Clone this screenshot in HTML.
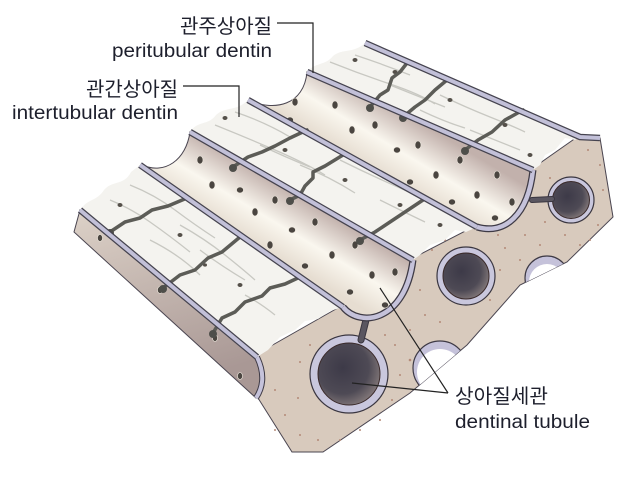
<!DOCTYPE html>
<html><head><meta charset="utf-8"><style>
html,body{margin:0;padding:0;background:#fff;}
svg{display:block;}
text{font-family:"Liberation Sans","Noto Sans CJK KR",sans-serif;fill:#1d1f2c;}
</style></head><body>
<svg width="628" height="479" viewBox="0 0 628 479" xmlns="http://www.w3.org/2000/svg">
<defs>
<linearGradient id="gAB" gradientUnits="userSpaceOnUse" x1="240" y1="235" x2="273" y2="180">
<stop offset="0" stop-color="#e6ddd1"/><stop offset="0.45" stop-color="#faf7ef"/><stop offset="1" stop-color="#c2b1ac"/></linearGradient>
<linearGradient id="gBC" gradientUnits="userSpaceOnUse" x1="380" y1="173" x2="413" y2="118">
<stop offset="0" stop-color="#e6ddd1"/><stop offset="0.45" stop-color="#faf7ef"/><stop offset="1" stop-color="#c2b1ac"/></linearGradient>
<linearGradient id="gSide" x1="0" y1="0" x2="0.3" y2="1">
<stop offset="0" stop-color="#ddd2c8"/><stop offset="1" stop-color="#a99895"/></linearGradient>
<radialGradient id="hole" cx="0.4" cy="0.4" r="0.7">
<stop offset="0" stop-color="#3d3a48"/><stop offset="0.6" stop-color="#4e4a55"/><stop offset="1" stop-color="#8f8382"/></radialGradient>
<clipPath id="cf"><path d="M255,355 L343,305 L413,258 L477,225 L533,168 L580,135 L600,138 L613,217 L567,262 L520,285 L467,345 L410,393 L323,452 L292,452 L258,398 Z"/></clipPath>
</defs>

<path d="M255,355 L343,305 L413,258 L477,225 L533,168 L580,135 L600,138 L613,217 L567,262 L520,285 L467,345 L410,393 L323,452 L292,452 L258,398 Z" fill="#d8cabd" stroke="#4a4550" stroke-width="1"/>
<g fill="#b48a78">
<circle cx="285" cy="415" r="1"/><circle cx="300" cy="435" r="1"/><circle cx="318" cy="440" r="1"/><circle cx="275" cy="390" r="1"/><circle cx="298" cy="398" r="1"/><circle cx="392" cy="400" r="1"/><circle cx="400" cy="375" r="1"/><circle cx="395" cy="345" r="1"/><circle cx="410" cy="330" r="1"/><circle cx="425" cy="315" r="1"/><circle cx="440" cy="322" r="1"/><circle cx="455" cy="300" r="1"/><circle cx="490" cy="300" r="1"/><circle cx="500" cy="270" r="1"/><circle cx="505" cy="248" r="1"/><circle cx="520" cy="260" r="1"/><circle cx="525" cy="235" r="1"/><circle cx="540" cy="245" r="1"/><circle cx="498" cy="235" r="1"/><circle cx="590" cy="240" r="1"/><circle cx="598" cy="225" r="1"/><circle cx="603" cy="190" r="1"/><circle cx="600" cy="165" r="1"/><circle cx="588" cy="150" r="1"/><circle cx="550" cy="178" r="1"/><circle cx="545" cy="222" r="1"/><circle cx="432" cy="250" r="1"/><circle cx="445" cy="240" r="1"/><circle cx="420" cy="290" r="1"/><circle cx="385" cy="335" r="1"/><circle cx="380" cy="420" r="1"/><circle cx="360" cy="430" r="1"/><circle cx="340" cy="440" r="1"/><circle cx="275" cy="430" r="1"/><circle cx="310" cy="345" r="1"/><circle cx="300" cy="362" r="1"/><circle cx="565" cy="235" r="1"/><circle cx="580" cy="245" r="1"/><circle cx="410" cy="360" r="1.3"/>
</g>
<g clip-path="url(#cf)">
<circle cx="440" cy="368" r="27" fill="#c5c2da" stroke="#3e3a45" stroke-width="1.2"/>
<circle cx="440" cy="372" r="23" fill="#fff"/>
<circle cx="547" cy="278" r="22" fill="#c5c2da" stroke="#3e3a45" stroke-width="1.2"/>
<circle cx="547" cy="282" r="18" fill="#fff"/>
</g>
<circle cx="349" cy="374" r="39" fill="#c9c7dd" stroke="#3a3640" stroke-width="1.2"/>
<circle cx="349" cy="374" r="31" fill="url(#hole)" stroke="#3a2a2a" stroke-width="1"/>
<circle cx="466" cy="276" r="29" fill="#c9c7dd" stroke="#3a3640" stroke-width="1.2"/>
<circle cx="466" cy="276" r="23" fill="url(#hole)" stroke="#3a2a2a" stroke-width="1"/>
<circle cx="571" cy="200" r="23" fill="#c9c7dd" stroke="#3a3640" stroke-width="1.2"/>
<circle cx="571" cy="200" r="18.5" fill="url(#hole)" stroke="#3a2a2a" stroke-width="1"/>
<path d="M361,340 L367,316" stroke="#3a3640" stroke-width="7" stroke-linecap="round"/>
<path d="M361,340 L367,316" stroke="#5a5660" stroke-width="5" stroke-linecap="round"/>
<path d="M552,199 L532,200" stroke="#3a3640" stroke-width="6" stroke-linecap="round"/>
<path d="M552,199 L532,200" stroke="#5a5660" stroke-width="4" stroke-linecap="round"/>

<path d="M80,210 L257,357 Q268,380 256,398 L74,232 Z" fill="url(#gSide)" stroke="#4a4550" stroke-width="1"/>
<path d="M257,357 Q268,380 256,398" fill="none" stroke="#3e3a45" stroke-width="6"/>
<path d="M257,357 Q268,380 256,398" fill="none" stroke="#c5c2da" stroke-width="4"/>

<path d="M142,165 L343,307 C360,328 405,322 413,260 L190,132 C186,160 165,175 142,165 Z" fill="url(#gAB)" stroke="#4a4550" stroke-width="1"/>
<path d="M343,307 C360,328 405,322 413,260" fill="none" stroke="#3e3a45" stroke-width="7"/>
<path d="M343,307 C360,328 405,322 413,260" fill="none" stroke="#c5c2da" stroke-width="4.5"/>
<path d="M248,100 L477,227 C505,235 528,215 533,170 L307,72 C304,105 275,112 248,100 Z" fill="url(#gBC)" stroke="#4a4550" stroke-width="1"/>
<path d="M477,227 C505,235 528,215 533,170" fill="none" stroke="#3e3a45" stroke-width="7"/>
<path d="M477,227 C505,235 528,215 533,170" fill="none" stroke="#c5c2da" stroke-width="4.5"/>

<g fill="#4a4540" stroke="#efe9df" stroke-width="0.6">
<ellipse cx="200" cy="160" rx="3" ry="4"/><ellipse cx="212" cy="185" rx="3" ry="4"/><ellipse cx="240" cy="190" rx="3.5" ry="3"/><ellipse cx="255" cy="212" rx="3" ry="4"/><ellipse cx="275" cy="200" rx="3" ry="4"/><ellipse cx="292" cy="230" rx="3.5" ry="3"/><ellipse cx="270" cy="245" rx="3" ry="4"/><ellipse cx="315" cy="222" rx="3" ry="4"/><ellipse cx="332" cy="255" rx="3" ry="4"/><ellipse cx="305" cy="266" rx="3.5" ry="3"/><ellipse cx="355" cy="245" rx="3" ry="4"/><ellipse cx="372" cy="275" rx="3" ry="4"/><ellipse cx="350" cy="292" rx="3.5" ry="3"/><ellipse cx="395" cy="272" rx="3" ry="4"/><ellipse cx="385" cy="305" rx="3.5" ry="3"/>
<ellipse cx="295" cy="102" rx="3" ry="4"/><ellipse cx="290" cy="120" rx="3.5" ry="3"/><ellipse cx="335" cy="105" rx="3" ry="4"/><ellipse cx="352" cy="130" rx="3" ry="4"/><ellipse cx="375" cy="125" rx="3" ry="4"/><ellipse cx="397" cy="150" rx="3.5" ry="3"/><ellipse cx="418" cy="145" rx="3" ry="4"/><ellipse cx="436" cy="175" rx="3" ry="4"/><ellipse cx="410" cy="182" rx="3.5" ry="3"/><ellipse cx="460" cy="160" rx="3" ry="4"/><ellipse cx="477" cy="195" rx="3" ry="4"/><ellipse cx="452" cy="202" rx="3.5" ry="3"/><ellipse cx="497" cy="175" rx="3" ry="4"/><ellipse cx="512" cy="202" rx="3" ry="4"/><ellipse cx="495" cy="218" rx="3.5" ry="3"/>
<ellipse cx="100" cy="238" rx="2.5" ry="3.5"/><ellipse cx="160" cy="290" rx="2.5" ry="3.5"/><ellipse cx="215" cy="338" rx="2.5" ry="3.5"/><ellipse cx="240" cy="376" rx="2.5" ry="3.5"/>
</g>

<path d="M80,210 C88,198 96,202 104,190 C112,180 124,186 131,172 L140,165 L343,307 L330,311 L318,319 L305,321 L295,330 L280,337 L268,350 L257,357 Z" fill="#f4f3ef"/>
<path d="M190,132 C198,120 208,126 216,115 C226,106 236,112 248,100 L477,227 L466,232 L455,230 L445,240 L430,245 L420,255 L413,260 Z" fill="#f4f3ef"/>
<path d="M307,72 C315,62 325,66 333,56 C343,48 353,54 365,43 L580,137 L575,140 L565,138 L555,150 L545,155 L540,165 L533,170 Z" fill="#f4f3ef"/>
<g fill="none" stroke="#c8c8c2" stroke-width="1.3">
<path d="M110,200 q20,8 40,22 t40,30"/><path d="M130,185 q25,10 45,25 t40,28"/><path d="M150,240 q30,15 50,35"/><path d="M200,250 q20,15 45,30"/><path d="M245,295 q15,8 30,20"/><path d="M180,225 q25,14 45,30 t30,25"/>
<path d="M215,125 q30,12 60,25 t50,25"/><path d="M235,112 q30,10 55,25"/><path d="M300,165 q30,12 55,28"/><path d="M340,160 q30,15 60,28 t40,20"/><path d="M380,200 q20,10 45,22"/><path d="M260,145 q25,12 50,22"/>
<path d="M330,62 q30,12 60,22 t45,20"/><path d="M355,55 q30,10 55,20"/><path d="M390,85 q30,12 55,22"/><path d="M440,95 q25,12 50,22 t35,15"/><path d="M470,130 q25,10 50,20"/><path d="M420,110 q25,12 45,18"/>
</g>
<g fill="#55504a">
<ellipse cx="120" cy="205" rx="2.5" ry="2"/><ellipse cx="180" cy="235" rx="2.5" ry="2"/><ellipse cx="240" cy="285" rx="2.5" ry="2"/><ellipse cx="205" cy="265" rx="2" ry="1.6"/>
<ellipse cx="225" cy="118" rx="2.5" ry="2"/><ellipse cx="285" cy="150" rx="2.5" ry="2"/><ellipse cx="345" cy="180" rx="2.5" ry="2"/><ellipse cx="400" cy="205" rx="2.5" ry="2"/><ellipse cx="440" cy="225" rx="2.5" ry="2"/>
<ellipse cx="355" cy="60" rx="2.5" ry="2"/><ellipse cx="395" cy="72" rx="2.5" ry="2"/><ellipse cx="450" cy="100" rx="2.5" ry="2"/><ellipse cx="505" cy="125" rx="2.5" ry="2"/><ellipse cx="530" cy="155" rx="2.5" ry="2"/>
</g>
<g fill="none" stroke="#5c5c57" stroke-width="3.5" stroke-linecap="round" stroke-linejoin="round">
<path d="M110,232 L125,222 L140,218 L152,210 L168,206 L187,198"/>
<path d="M163,288 L180,275 L195,270 L208,258 L222,252 L240,237"/>
<path d="M213,333 L222,318 L235,312 L245,302 L262,296 L270,288 L285,284 L300,277"/>
<path d="M233,167 L248,157 L262,152 L275,146 L290,138 L307,130"/>
<path d="M290,200 L300,195 L305,186 L313,178 L313,172 L325,166 L343,155"/>
<path d="M360,240 L375,232 L390,222 L405,212 L423,200"/>
<path d="M370,107 L380,95 L388,90 L392,78 L400,72 L407,63"/>
<path d="M403,117 L415,107 L425,100 L435,90 L447,80"/>
<path d="M465,150 L478,140 L492,132 L505,120 L523,110"/>
</g>
<g fill="#4e4e4a">
<circle cx="110" cy="233" r="4"/><circle cx="163" cy="289" r="4"/><circle cx="213" cy="334" r="4"/><circle cx="233" cy="168" r="4"/><circle cx="290" cy="201" r="4"/><circle cx="360" cy="241" r="4"/><circle cx="370" cy="108" r="4"/><circle cx="403" cy="118" r="4"/><circle cx="465" cy="151" r="4"/>
</g>
<g fill="none" stroke-linecap="butt">
<path d="M80,210 L257,357 M140,165 L343,307 M190,132 L413,260 M248,100 L477,227 M307,72 L533,170 M365,43 L580,137 L600,138" stroke="#45434f" stroke-width="6.5"/>
<path d="M80,210 L257,357 M140,165 L343,307 M190,132 L413,260 M248,100 L477,227 M307,72 L533,170 M365,43 L580,137 L600,138" stroke="#c2c0d8" stroke-width="4"/>
</g>

<g fill="none" stroke="#222" stroke-width="1.2">
<path d="M277,23 L313,23 L313,73"/>
<path d="M183,86 L239,86 L239,117"/>
<path d="M448,393 L380,288 M448,393 L352,383"/>
</g>
<text x="272" y="33" font-size="20" text-anchor="end">관주상아질</text>
<text x="112" y="57" font-size="19" textLength="160" lengthAdjust="spacingAndGlyphs">peritubular dentin</text>
<text x="178" y="96" font-size="20" text-anchor="end">관간상아질</text>
<text x="12" y="119" font-size="19" textLength="166" lengthAdjust="spacingAndGlyphs">intertubular dentin</text>
<text x="455" y="403" font-size="20" textLength="93" lengthAdjust="spacingAndGlyphs">상아질세관</text>
<text x="455" y="428" font-size="19" textLength="135" lengthAdjust="spacingAndGlyphs">dentinal tubule</text>
</svg>
</body></html>
